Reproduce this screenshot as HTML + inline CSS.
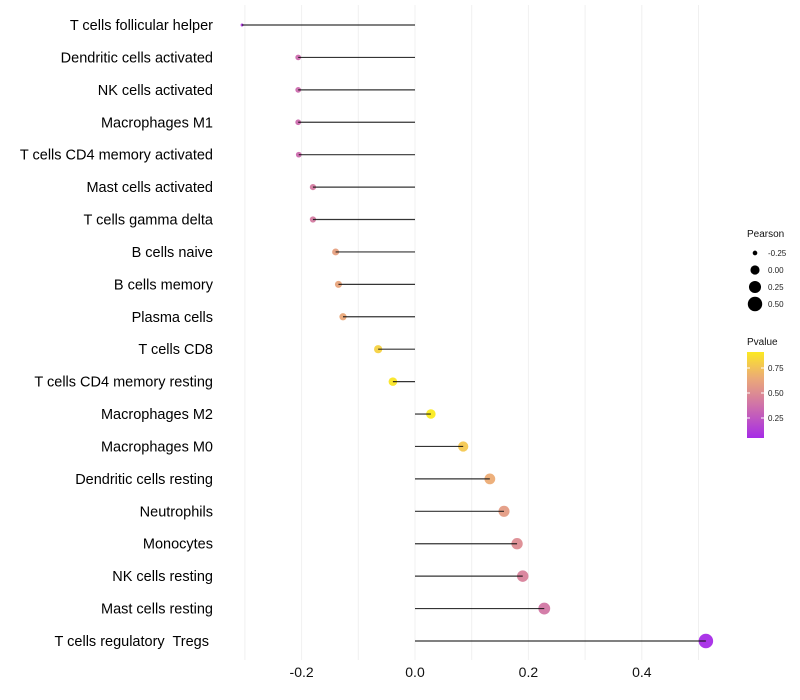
<!DOCTYPE html>
<html><head><meta charset="utf-8"><style>
body{margin:0;background:#fff}
svg{display:block;font-family:"Liberation Sans",sans-serif}
text{white-space:pre}
</style></head><body>
<svg id="chart" width="800" height="700"></svg>
<script>
const categories=["T cells follicular helper","Dendritic cells activated","NK cells activated","Macrophages M1","T cells CD4 memory activated","Mast cells activated","T cells gamma delta","B cells naive","B cells memory","Plasma cells","T cells CD8","T cells CD4 memory resting","Macrophages M2","Macrophages M0","Dendritic cells resting","Neutrophils","Monocytes","NK cells resting","Mast cells resting","T cells regulatory  Tregs"];
const pearson=[-0.305,-0.206,-0.206,-0.206,-0.205,-0.18,-0.18,-0.14,-0.135,-0.127,-0.065,-0.039,0.028,0.085,0.132,0.157,0.18,0.19,0.228,0.513];
const pvalue=[0.1,0.35,0.35,0.35,0.35,0.42,0.42,0.6,0.62,0.64,0.82,0.9,0.92,0.78,0.66,0.58,0.5,0.45,0.4,0.05];
const xTicks=[-0.2,0,0.2,0.4];
const xTickLabels=["-0.2","0.0","0.2","0.4"];
const sizeLegend=[-0.25,0,0.25,0.5];
const colorLegend=[0.25,0.5,0.75];

const NS="http://www.w3.org/2000/svg";
const svg=document.getElementById('chart');
function mk(t,a,p){const e=document.createElementNS(NS,t);for(const k in a)e.setAttribute(k,a[k]);(p||svg).appendChild(e);return e;}
const X=v=>415+v*567;
const Y=i=>25+i*32.42;
const R=v=>Math.sqrt(Math.max(2+62*(v+0.305),2.2));
const stops=[[0,[160,32,240]],[0.45,[216,130,155]],[0.7,[240,180,110]],[1,[255,255,0]]];
function col(p){for(let i=1;i<stops.length;i++){if(p<=stops[i][0]){const a=stops[i-1],b=stops[i];const t=(p-a[0])/(b[0]-a[0]);const c=a[1].map((v,j)=>Math.round(v+(b[1][j]-v)*t));return `rgb(${c})`;}}return 'rgb(255,255,0)';}

for(let g=-0.3;g<=0.51;g+=0.1){const l=mk('line',{x1:X(g),x2:X(g),y1:5,y2:660,stroke:'#f0f0f0','stroke-width':1});

}
xTicks.forEach((t,i)=>{const e=mk('text',{x:X(t),y:677,'text-anchor':'middle','font-size':14,fill:'#111'});e.textContent=xTickLabels[i];

});

categories.forEach((c,i)=>{
 const t=mk('text',{x:i===categories.length-1?209:213,y:Y(i)+5,'text-anchor':'end','font-size':14.5,fill:'#000'});t.textContent=c;
 
 
 const p=mk('circle',{cx:X(pearson[i]),cy:Y(i),r:R(pearson[i]),fill:col(pvalue[i]),'fill-opacity':0.95});
 
 
 const l=mk('line',{x1:X(0),x2:X(pearson[i]),y1:Y(i),y2:Y(i),stroke:'#111','stroke-width':1.2,'stroke-opacity':0.85});
 
 
});

const g1=mk('g',{});


let tt=mk('text',{x:747,y:237,'font-size':10,fill:'#111'},g1);tt.textContent='Pearson';
sizeLegend.forEach((v,i)=>{const y=253+i*17;mk('circle',{cx:755,cy:y,r:R(v),fill:'#000'},g1);
const e=mk('text',{x:768,y:y+3,'font-size':8,fill:'#222'},g1);e.textContent=v.toFixed(2);});
const g2=mk('g',{});


tt=mk('text',{x:747,y:345,'font-size':10,fill:'#111'},g2);tt.textContent='Pvalue';
const defs=mk('defs',{});const lg=mk('linearGradient',{id:'pg',x1:0,y1:1,x2:0,y2:0},defs);
const pb=y=>443-y*100;
[0.05,0.2,0.35,0.5,0.65,0.8,0.91].forEach(p=>mk('stop',{offset:(p-0.05)/0.86,'stop-color':col(p)},lg));
mk('rect',{x:747,y:352,width:17,height:86,fill:'url(#pg)'},g2);
colorLegend.forEach(v=>{const y=pb(v);mk('line',{x1:747,x2:750,y1:y,y2:y,stroke:'#fff'},g2);mk('line',{x1:761,x2:764,y1:y,y2:y,stroke:'#fff'},g2);
const e=mk('text',{x:768,y:y+3,'font-size':8,fill:'#222'},g2);e.textContent=v.toFixed(2);});
</script>
</body></html>
